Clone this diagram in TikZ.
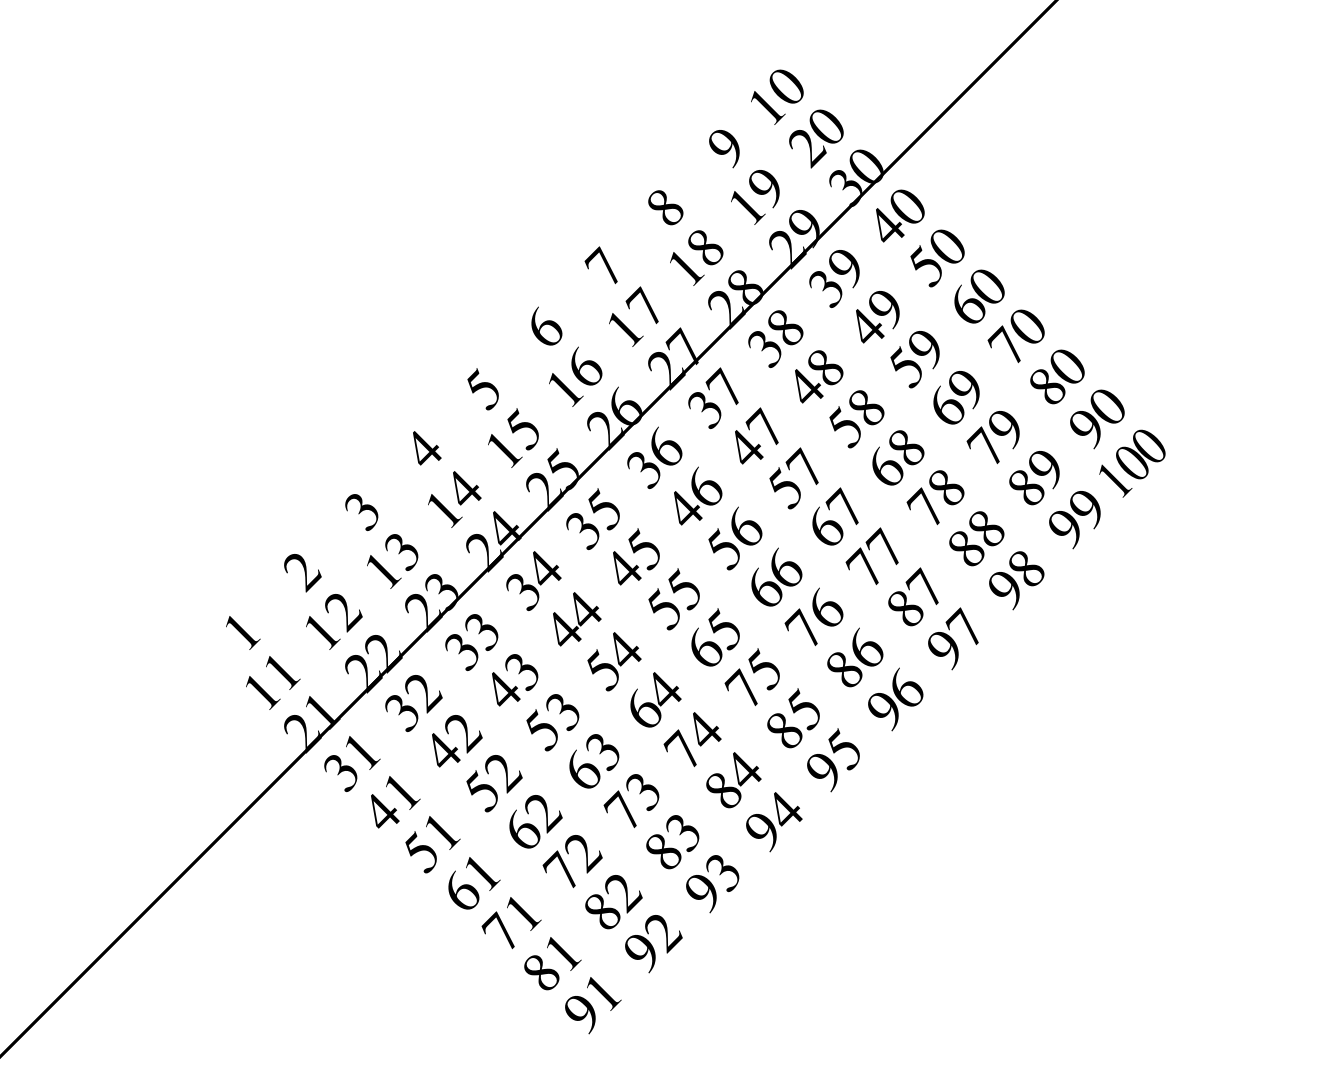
\documentclass[tikz,border=0pt]{standalone}
\usepackage{graphicx}
\usepackage{fontspec}
\IfFontExistsTF{texgyretermes-regular.otf}
  {\newfontfamily\numfont{texgyretermes-regular.otf}}
  {\newfontfamily\numfont{Liberation Serif}}
\begin{document}
\begin{tikzpicture}[x=1pt,y=1pt,
  num/.style={anchor=base east, inner sep=0pt, outer sep=0pt, font=\numfont\fontsize{57}{60}\selectfont},
  diagline/.style={line width=3pt, black}]
\useasboundingbox (0,0) rectangle (1322,-1080);
\begin{scope}
\clip (0,0) rectangle (1322,-1080);
\coordinate (L1) at (-20,-1077);
\coordinate (L2) at (1077,20);
\draw[diagline] (L1) -- (L2);
\end{scope}
\begin{scope}[rotate=45, transform shape]
\foreach \i in {1,...,10} {
  \foreach \j in {1,...,10} {
    \pgfmathtruncatemacro{\n}{10*(\i-1)+\j}
    \ifnum\n=100
      \node[num] (n\n) at ({-261.5+85.7*(\j-1)}, {-(637+56.7*(\i-1))}) {\scalebox{0.86}[1]{\n}};
    \else
      \node[num] (n\n) at ({-261.5+85.7*(\j-1)}, {-(637+56.7*(\i-1))}) {\n};
    \fi
  }
}
\end{scope}
\end{tikzpicture}
\end{document}
